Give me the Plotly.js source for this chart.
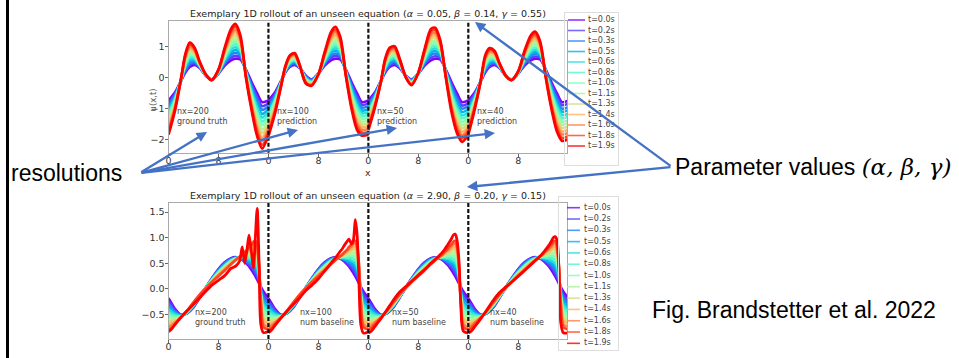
<!DOCTYPE html>
<html><head><meta charset="utf-8">
<script src="https://cdn.plot.ly/plotly-3.0.1.min.js"></script>
<style>html,body{margin:0;padding:0;background:#fff;} #chart{width:959px;height:358px;}</style>
</head><body><div id="chart"></div>
<script>
const W = 959, H = 358;

const timeLabels = ["t=0.0s","t=0.2s","t=0.3s","t=0.5s","t=0.6s","t=0.8s","t=1.0s","t=1.1s","t=1.3s","t=1.4s","t=1.6s","t=1.8s","t=1.9s"];
const lineColors = ["#8000ff","#5542fd","#2b80f6","#00b4ec","#2bdddd","#55f6ca","#80ffb4","#aaf69b","#d5dd80","#ffb462","#ff8042","#ff4221","#ff0000"];
const panelOffsets = [0, 16, 32, 48];
const xTicks = [0, 8, 16, 24, 32, 40, 48, 56];
const xTickText = ["0","8","0","8","0","8","0","8"];
const topTitle = "Exemplary 1D rollout of an unseen equation (<i>α</i> = 0.05, <i>β</i> = 0.14, <i>γ</i> = 0.55)";
const botTitle = "Exemplary 1D rollout of an unseen equation (<i>α</i> = 2.90, <i>β</i> = 0.20, <i>γ</i> = 0.15)";
const topNotes = ["nx=200<br>ground truth","nx=100<br>prediction","nx=50<br>prediction","nx=40<br>prediction"];
const botNotes = ["nx=200<br>ground truth","nx=100<br>num baseline","nx=50<br>num baseline","nx=40<br>num baseline"];

// ---- top chart (alpha=0.05) : u(x,t) per panel, one row per legend time ----
const xTop = [0, 1, 2, 2.7, 3.4, 4.2, 5, 6, 6.9, 8, 9, 10, 10.7, 11.5, 12.4, 13.3, 14.2, 15, 16];
const topBlue = [-0.75, -0.5, -0.12, 0.15, 0.33, 0.40, 0.30, 0.05, -0.07, 0.12, 0.38, 0.55, 0.60, 0.58, 0.25, -0.15, -0.52, -0.80, -0.75];
const topPanel1 = [
 topBlue,
 [-0.84,-0.55,-0.11,0.20,0.40,0.45,0.32,0.05,-0.07,0.13,0.43,0.63,0.69,0.64,0.23,-0.23,-0.64,-0.93,-0.84],
 [-0.93,-0.60,-0.11,0.25,0.46,0.49,0.33,0.06,-0.07,0.14,0.48,0.72,0.79,0.71,0.21,-0.30,-0.75,-1.05,-0.93],
 [-1.03,-0.65,-0.10,0.30,0.53,0.54,0.35,0.06,-0.08,0.15,0.52,0.80,0.88,0.77,0.19,-0.38,-0.87,-1.18,-1.03],
 [-1.12,-0.70,-0.10,0.35,0.59,0.58,0.37,0.06,-0.08,0.16,0.57,0.88,0.97,0.84,0.17,-0.45,-0.98,-1.30,-1.12],
 [-1.21,-0.75,-0.09,0.40,0.66,0.63,0.38,0.06,-0.08,0.17,0.62,0.97,1.07,0.90,0.15,-0.53,-1.10,-1.43,-1.21],
 [-1.30,-0.80,-0.09,0.45,0.73,0.68,0.40,0.07,-0.08,0.19,0.67,1.05,1.16,0.97,0.13,-0.60,-1.21,-1.55,-1.30],
 [-1.39,-0.85,-0.08,0.50,0.79,0.72,0.42,0.07,-0.08,0.20,0.71,1.13,1.25,1.03,0.10,-0.68,-1.33,-1.68,-1.39],
 [-1.48,-0.90,-0.07,0.55,0.86,0.77,0.43,0.07,-0.08,0.21,0.76,1.22,1.35,1.09,0.08,-0.75,-1.44,-1.80,-1.48],
 [-1.58,-0.95,-0.07,0.60,0.92,0.81,0.45,0.07,-0.09,0.22,0.81,1.30,1.44,1.16,0.06,-0.83,-1.56,-1.93,-1.58],
 [-1.67,-1.00,-0.06,0.65,0.99,0.86,0.47,0.08,-0.09,0.23,0.86,1.38,1.53,1.22,0.04,-0.90,-1.67,-2.05,-1.67],
 [-1.76,-1.05,-0.06,0.70,1.05,0.90,0.48,0.08,-0.09,0.24,0.90,1.47,1.63,1.29,0.02,-0.98,-1.79,-2.18,-1.76],
 [-1.85,-1.10,-0.05,0.75,1.12,0.95,0.50,0.08,-0.09,0.25,0.95,1.55,1.72,1.35,0.00,-1.05,-1.90,-2.30,-1.85]
];
const topPanel2 = [
 topBlue,
 [-0.85,-0.56,-0.14,0.17,0.36,0.43,0.31,0.03,-0.09,0.12,0.42,0.63,0.69,0.64,0.23,-0.22,-0.62,-0.89,-0.84],
 [-0.94,-0.62,-0.15,0.18,0.39,0.46,0.32,0.01,-0.10,0.12,0.45,0.70,0.77,0.70,0.22,-0.29,-0.72,-0.98,-0.93],
 [-1.04,-0.68,-0.17,0.20,0.42,0.50,0.33,-0.01,-0.12,0.12,0.49,0.78,0.86,0.76,0.20,-0.36,-0.82,-1.07,-1.03],
 [-1.13,-0.73,-0.18,0.22,0.45,0.53,0.33,-0.03,-0.14,0.11,0.52,0.85,0.94,0.82,0.18,-0.43,-0.91,-1.16,-1.12],
 [-1.23,-0.79,-0.20,0.23,0.48,0.56,0.34,-0.05,-0.15,0.11,0.56,0.93,1.03,0.88,0.17,-0.50,-1.01,-1.25,-1.21],
 [-1.33,-0.85,-0.21,0.25,0.52,0.59,0.35,-0.08,-0.17,0.11,0.59,1.00,1.12,0.94,0.15,-0.58,-1.11,-1.34,-1.30],
 [-1.42,-0.91,-0.23,0.27,0.55,0.62,0.36,-0.10,-0.19,0.11,0.63,1.08,1.20,1.00,0.13,-0.65,-1.21,-1.43,-1.39],
 [-1.52,-0.97,-0.24,0.28,0.58,0.65,0.37,-0.12,-0.20,0.11,0.66,1.15,1.29,1.06,0.12,-0.72,-1.31,-1.52,-1.48],
 [-1.61,-1.03,-0.26,0.30,0.61,0.69,0.38,-0.14,-0.22,0.11,0.70,1.23,1.37,1.12,0.10,-0.79,-1.41,-1.61,-1.58],
 [-1.71,-1.08,-0.27,0.32,0.64,0.72,0.38,-0.16,-0.24,0.10,0.73,1.30,1.46,1.18,0.08,-0.86,-1.50,-1.70,-1.67],
 [-1.80,-1.14,-0.29,0.33,0.67,0.75,0.39,-0.18,-0.25,0.10,0.77,1.38,1.54,1.24,0.07,-0.93,-1.60,-1.79,-1.76],
 [-1.90,-1.20,-0.30,0.35,0.70,0.78,0.40,-0.20,-0.27,0.10,0.80,1.45,1.63,1.30,0.05,-1.00,-1.70,-1.88,-1.85]
];
const topPanel3 = [
 topBlue,
 [-0.83,-0.54,-0.12,0.19,0.38,0.45,0.33,0.05,-0.09,0.12,0.42,0.63,0.68,0.63,0.23,-0.23,-0.63,-0.91,-0.84],
 [-0.91,-0.58,-0.13,0.23,0.43,0.50,0.35,0.04,-0.10,0.13,0.47,0.72,0.77,0.68,0.21,-0.31,-0.73,-1.01,-0.93],
 [-0.99,-0.63,-0.13,0.26,0.49,0.55,0.38,0.04,-0.12,0.13,0.51,0.80,0.85,0.74,0.19,-0.39,-0.84,-1.12,-1.03],
 [-1.07,-0.67,-0.13,0.30,0.54,0.60,0.40,0.03,-0.13,0.13,0.55,0.88,0.93,0.79,0.17,-0.47,-0.95,-1.23,-1.12],
 [-1.15,-0.71,-0.13,0.34,0.59,0.65,0.43,0.03,-0.15,0.13,0.60,0.97,1.02,0.84,0.15,-0.55,-1.05,-1.33,-1.21],
 [-1.23,-0.75,-0.14,0.38,0.64,0.70,0.45,0.03,-0.16,0.14,0.64,1.05,1.10,0.89,0.13,-0.63,-1.16,-1.44,-1.30],
 [-1.30,-0.79,-0.14,0.41,0.69,0.75,0.48,0.02,-0.18,0.14,0.68,1.13,1.18,0.94,0.10,-0.70,-1.27,-1.55,-1.39],
 [-1.38,-0.83,-0.14,0.45,0.74,0.80,0.50,0.02,-0.19,0.14,0.73,1.22,1.27,0.99,0.08,-0.78,-1.37,-1.65,-1.48],
 [-1.46,-0.88,-0.14,0.49,0.80,0.85,0.53,0.01,-0.21,0.14,0.77,1.30,1.35,1.05,0.06,-0.86,-1.48,-1.76,-1.58],
 [-1.54,-0.92,-0.15,0.53,0.85,0.90,0.55,0.01,-0.22,0.15,0.81,1.38,1.43,1.10,0.04,-0.94,-1.59,-1.87,-1.67],
 [-1.62,-0.96,-0.15,0.56,0.90,0.95,0.58,0.00,-0.24,0.15,0.86,1.47,1.52,1.15,0.02,-1.02,-1.69,-1.97,-1.76],
 [-1.70,-1.00,-0.15,0.60,0.95,1.00,0.60,0.00,-0.25,0.15,0.90,1.55,1.60,1.20,0.00,-1.10,-1.80,-2.08,-1.85]
];
const topPanel4 = [
 topBlue,
 [-0.84,-0.55,-0.12,0.20,0.38,0.44,0.31,0.05,-0.07,0.13,0.42,0.62,0.67,0.63,0.23,-0.22,-0.62,-0.90,-0.85],
 [-0.93,-0.59,-0.12,0.24,0.43,0.48,0.33,0.05,-0.07,0.13,0.46,0.68,0.75,0.68,0.21,-0.29,-0.73,-1.01,-0.96],
 [-1.03,-0.64,-0.12,0.29,0.48,0.51,0.34,0.05,-0.08,0.14,0.50,0.75,0.82,0.72,0.19,-0.36,-0.83,-1.11,-1.06],
 [-1.12,-0.68,-0.11,0.33,0.53,0.55,0.35,0.05,-0.08,0.15,0.54,0.82,0.89,0.77,0.17,-0.43,-0.93,-1.22,-1.17],
 [-1.21,-0.73,-0.11,0.38,0.58,0.59,0.36,0.05,-0.08,0.15,0.58,0.88,0.96,0.82,0.15,-0.50,-1.03,-1.32,-1.27],
 [-1.30,-0.78,-0.11,0.43,0.64,0.63,0.38,0.05,-0.08,0.16,0.62,0.95,1.04,0.87,0.13,-0.58,-1.14,-1.43,-1.38],
 [-1.39,-0.82,-0.11,0.47,0.69,0.66,0.39,0.05,-0.08,0.17,0.65,1.02,1.11,0.91,0.10,-0.65,-1.24,-1.53,-1.48],
 [-1.48,-0.87,-0.11,0.52,0.74,0.70,0.40,0.05,-0.08,0.17,0.69,1.08,1.18,0.96,0.08,-0.72,-1.34,-1.63,-1.58],
 [-1.58,-0.91,-0.11,0.56,0.79,0.74,0.41,0.05,-0.09,0.18,0.73,1.15,1.25,1.01,0.06,-0.79,-1.44,-1.74,-1.69],
 [-1.67,-0.96,-0.10,0.61,0.84,0.78,0.43,0.05,-0.09,0.19,0.77,1.22,1.33,1.06,0.04,-0.86,-1.55,-1.84,-1.79],
 [-1.76,-1.00,-0.10,0.65,0.89,0.81,0.44,0.05,-0.09,0.19,0.81,1.28,1.40,1.10,0.02,-0.93,-1.65,-1.95,-1.90],
 [-1.85,-1.05,-0.10,0.70,0.94,0.85,0.45,0.05,-0.09,0.20,0.85,1.35,1.47,1.15,0.00,-1.00,-1.75,-2.05,-2.00]
];

// ---- bottom chart (alpha=2.90) ----
const xBot = [0, 0.5, 1, 2, 3, 4, 5, 6, 7, 8, 9, 10, 10.8, 11.4, 11.8, 12.2, 12.6, 12.9, 13.3, 13.6, 13.9, 14.2, 14.5, 14.8, 15.2, 16];
const botCommon = [
 [-0.18,-0.28,-0.38,-0.50,-0.47,-0.36,-0.17,0.03,0.22,0.39,0.52,0.60,0.62,0.60,0.57,0.53,0.48,0.44,0.37,0.31,0.25,0.18,0.11,0.04,-0.05,-0.18],
 [-0.24,-0.32,-0.41,-0.51,-0.47,-0.35,-0.16,0.03,0.21,0.38,0.51,0.59,0.62,0.60,0.58,0.55,0.51,0.47,0.42,0.37,0.31,0.24,0.14,0.01,-0.11,-0.24],
 [-0.29,-0.37,-0.44,-0.51,-0.46,-0.34,-0.16,0.03,0.21,0.37,0.49,0.58,0.61,0.61,0.59,0.57,0.53,0.51,0.46,0.42,0.38,0.30,0.18,-0.02,-0.18,-0.29],
 [-0.35,-0.41,-0.47,-0.52,-0.46,-0.33,-0.15,0.03,0.20,0.35,0.48,0.57,0.61,0.61,0.60,0.58,0.56,0.54,0.51,0.48,0.44,0.36,0.21,-0.05,-0.24,-0.35],
 [-0.40,-0.45,-0.49,-0.52,-0.45,-0.32,-0.15,0.03,0.19,0.34,0.46,0.56,0.60,0.61,0.61,0.60,0.59,0.58,0.55,0.53,0.50,0.42,0.24,-0.07,-0.30,-0.40],
 [-0.46,-0.50,-0.52,-0.53,-0.45,-0.31,-0.14,0.03,0.18,0.33,0.45,0.55,0.60,0.61,0.62,0.62,0.61,0.61,0.60,0.59,0.56,0.48,0.27,-0.10,-0.36,-0.46],
 [-0.52,-0.54,-0.55,-0.54,-0.44,-0.31,-0.14,0.03,0.18,0.32,0.44,0.54,0.59,0.62,0.63,0.64,0.64,0.65,0.65,0.65,0.63,0.54,0.31,-0.13,-0.43,-0.52],
 [-0.57,-0.58,-0.58,-0.54,-0.44,-0.30,-0.13,0.02,0.17,0.30,0.42,0.52,0.59,0.62,0.63,0.65,0.67,0.68,0.69,0.70,0.69,0.60,0.34,-0.16,-0.49,-0.57],
 [-0.63,-0.63,-0.61,-0.55,-0.43,-0.29,-0.12,0.02,0.16,0.29,0.41,0.51,0.58,0.62,0.64,0.67,0.69,0.71,0.74,0.76,0.75,0.66,0.37,-0.19,-0.55,-0.63],
 [-0.68,-0.67,-0.64,-0.55,-0.43,-0.28,-0.12,0.02,0.15,0.28,0.39,0.50,0.58,0.62,0.65,0.69,0.72,0.75,0.78,0.81,0.81,0.72,0.40,-0.22,-0.61,-0.68],
 [-0.74,-0.71,-0.66,-0.56,-0.42,-0.27,-0.11,0.02,0.15,0.27,0.38,0.49,0.57,0.63,0.66,0.71,0.75,0.78,0.83,0.87,0.88,0.78,0.44,-0.24,-0.68,-0.74],
 [-0.79,-0.76,-0.69,-0.56,-0.42,-0.26,-0.11,0.02,0.14,0.25,0.36,0.48,0.57,0.63,0.67,0.72,0.77,0.82,0.87,0.92,0.94,0.84,0.47,-0.27,-0.74,-0.79]
];
const botFinal1 = [-0.83,-0.78,-0.70,-0.55,-0.42,-0.30,-0.17,-0.04,0.08,0.17,0.26,0.40,0.45,0.55,0.82,0.50,0.80,1.05,0.70,0.41,1.00,1.57,0.50,-0.70,-0.85,-0.83];
const botFinal2 = [-0.85,-0.80,-0.72,-0.57,-0.43,-0.30,-0.17,-0.03,0.08,0.20,0.35,0.50,0.62,0.72,0.78,0.86,0.93,0.97,0.88,0.95,1.35,1.05,0.10,-0.70,-0.86,-0.84];
const botFinal3 = [-0.86,-0.82,-0.74,-0.58,-0.40,-0.22,-0.06,0.05,0.16,0.27,0.38,0.50,0.59,0.66,0.71,0.77,0.84,0.90,0.98,1.05,1.07,0.95,0.55,-0.30,-0.82,-0.86];
const botFinal4 = [-0.86,-0.82,-0.74,-0.58,-0.40,-0.22,-0.07,0.04,0.14,0.25,0.36,0.47,0.56,0.63,0.68,0.74,0.80,0.85,0.93,1.00,1.02,0.95,0.40,-0.65,-0.85,-0.86];

// ---------------------------------------------------------------
const px = v => v / W, py = v => 1 - v / H;
const traces = [];
function addFamily(panels, xLocal, xa, ya) {
  panels.forEach((rows, k) => {
    rows.forEach((row, r) => {
      traces.push({type:'scatter', mode:'lines', x:xLocal.map(v => v + panelOffsets[k]), y:row,
        xaxis:xa, yaxis:ya, showlegend:false, hoverinfo:'skip',
        line:{color:lineColors[r], width:r === rows.length - 1 ? 2.8 : 2.6, shape:'spline', smoothing:0.8}});
    });
  });
}
addFamily([topPanel1, topPanel2, topPanel3, topPanel4], xTop, 'x2', 'y2');
addFamily([botCommon.concat([botFinal1]), botCommon.concat([botFinal2]), botCommon.concat([botFinal3]), botCommon.concat([botFinal4])], xBot, 'x', 'y');

function addLegend(xa, ya, x0, x1, xt) {
  timeLabels.forEach((lab, i) => {
    traces.push({type:'scatter', mode:'lines', x:[x0, x1], y:[i, i], xaxis:xa, yaxis:ya, showlegend:false,
      hoverinfo:'skip', line:{color:lineColors[i], width:1.6}, opacity:0.8});
  });
  traces.push({type:'scatter', mode:'text', x:timeLabels.map(() => xt), y:timeLabels.map((_, i) => i),
    text:timeLabels, textposition:'middle right', xaxis:xa, yaxis:ya, showlegend:false, hoverinfo:'skip',
    textfont:{family:'DejaVu Sans', size:8, color:'#444'}, cliponaxis:false});
}
addLegend('x3', 'y3', 3, 20, 23);
addLegend('x4', 'y4', 8, 21, 25);

const tickFont = {family:'DejaVu Sans', size:9.5, color:'#333'};
const xCommon = {domain:[px(168.5), px(567)], range:[0, 63.8], tickvals:xTicks, ticktext:xTickText,
  ticks:'outside', ticklen:3, tickcolor:'#666', showline:true, mirror:true, linecolor:'#aaa', linewidth:1,
  showgrid:false, zeroline:false, tickfont:tickFont, fixedrange:true, ticklabelstandoff:-4};
const boxAxis = {showline:true, mirror:true, linecolor:'#ddd', linewidth:1, showgrid:false, zeroline:false,
  showticklabels:false, ticks:'', fixedrange:true};

const shapes = [{type:'line', xref:'paper', yref:'paper', x0:px(7.5), x1:px(7.5), y0:0, y1:1, line:{color:'#000', width:3}}];
[16, 32, 48].forEach(v => {
  shapes.push({type:'line', xref:'x2', yref:'y2 domain', x0:v, x1:v, y0:0, y1:1, line:{color:'#111', width:2.2, dash:'4px,2px'}});
  shapes.push({type:'line', xref:'x', yref:'y domain', x0:v, x1:v, y0:0, y1:1, line:{color:'#111', width:2.2, dash:'4px,2px'}});
});

const noteFont = {family:'DejaVu Sans', size:8, color:'#444'};
const annotations = [
  {xref:'paper', yref:'paper', x:px(367.75), y:py(20.7), yanchor:'bottom', xanchor:'center', text:topTitle, showarrow:false,
   font:{family:'DejaVu Sans', size:9.5, color:'#222'}},
  {xref:'paper', yref:'paper', x:px(367.75), y:py(202.7), yanchor:'bottom', xanchor:'center', text:botTitle, showarrow:false,
   font:{family:'DejaVu Sans', size:9.5, color:'#222'}},
  {xref:'paper', yref:'paper', x:px(146), y:py(87), text:'u(x,t)', textangle:-90, showarrow:false, font:{family:'DejaVu Sans', size:8.5, color:'#555'}},
  {xref:'paper', yref:'paper', x:px(368), y:py(172), text:'x', showarrow:false, font:{family:'DejaVu Sans', size:9.5, color:'#333'}},
  {xref:'paper', yref:'paper', x:px(368), y:py(352), yanchor:'top', text:'x', showarrow:false, font:{family:'DejaVu Sans', size:9.5, color:'#333'}},
  {xref:'paper', yref:'paper', x:px(9), y:py(173), xanchor:'left', text:'resolutions', showarrow:false,
   font:{family:'Liberation Sans', size:23, color:'#000'}},
  {xref:'paper', yref:'paper', x:px(953), y:py(167), xanchor:'right',
   text:'Parameter values <span style="font-family:\'DejaVu Serif\'"><i>(α, β, γ)</i></span>', showarrow:false,
   font:{family:'Liberation Sans', size:23, color:'#000'}},
  {xref:'paper', yref:'paper', x:px(938), y:py(325), xanchor:'right', text:'Fig. Brandstetter et al. 2022', showarrow:false,
   font:{family:'Liberation Sans', size:23, color:'#000'}}
];
const topNoteX = [1.0, 17.0, 33.0, 49.0];
topNotes.forEach((t, k) => annotations.push({xref:'x2', yref:'y2', x:topNoteX[k], y:-1.25, xanchor:'left', align:'left', text:t, showarrow:false, font:noteFont}));
const botNoteX = [3.9, 20.8, 35.4, 51.2];
botNotes.forEach((t, k) => annotations.push({xref:'x', yref:'y', x:botNoteX[k], y:-0.56, xanchor:'left', align:'left', text:t, showarrow:false, font:noteFont}));

function arrow(tx, ty, hx, hy) {
  annotations.push({xref:'paper', yref:'paper', x:px(hx), y:py(hy), ax:tx - hx, ay:ty - hy, axref:'pixel', ayref:'pixel',
    text:'', showarrow:true, arrowhead:2, arrowsize:0.9, arrowwidth:2.3, arrowcolor:'#4472c4', standoff:0});
}
arrow(140, 173, 207, 132);
arrow(140, 173, 298, 130);
arrow(140, 173, 397, 128);
arrow(140, 173, 495, 133);
arrow(672, 167, 475, 22);
arrow(672, 167, 467, 187);

const layout = {
  width:W, height:H, margin:{l:0, r:0, t:0, b:0}, paper_bgcolor:'#fff', plot_bgcolor:'rgba(0,0,0,0)',
  showlegend:false, font:{family:'DejaVu Sans'},
  xaxis: Object.assign({}, xCommon, {anchor:'y'}),
  yaxis: {domain:[py(339), py(202.7)], range:[-0.975, 1.682], tickvals:[-0.5, 0, 0.5, 1, 1.5], tickformat:'.1f',
    ticks:'outside', ticklen:3, tickcolor:'#666', showline:true, mirror:true, linecolor:'#aaa', linewidth:1,
    showgrid:false, zeroline:false, tickfont:tickFont, anchor:'x', fixedrange:true, ticklabelstandoff:-2},
  xaxis2: Object.assign({}, xCommon, {anchor:'y2'}),
  yaxis2: {domain:[py(152.7), py(20.7)], range:[-2.432, 1.826], tickvals:[-2, -1, 0, 1],
    ticks:'outside', ticklen:3, tickcolor:'#666', showline:true, mirror:true, linecolor:'#aaa', linewidth:1,
    showgrid:false, zeroline:false, tickfont:tickFont, anchor:'x2', fixedrange:true, ticklabelstandoff:-2},
  xaxis3: Object.assign({}, boxAxis, {domain:[px(565), px(618)], range:[0, 53], anchor:'y3'}),
  yaxis3: Object.assign({}, boxAxis, {domain:[py(165), py(13)], range:[13.81, -0.667], anchor:'x3'}),
  xaxis4: Object.assign({}, boxAxis, {domain:[px(559), px(618)], range:[0, 59], anchor:'y4'}),
  yaxis4: Object.assign({}, boxAxis, {domain:[py(350), py(197)], range:[12.59, -0.947], anchor:'x4'}),
  shapes: shapes,
  annotations: annotations
};
Plotly.newPlot('chart', traces, layout, {displayModeBar:false, staticPlot:true});
</script>
</body></html>
